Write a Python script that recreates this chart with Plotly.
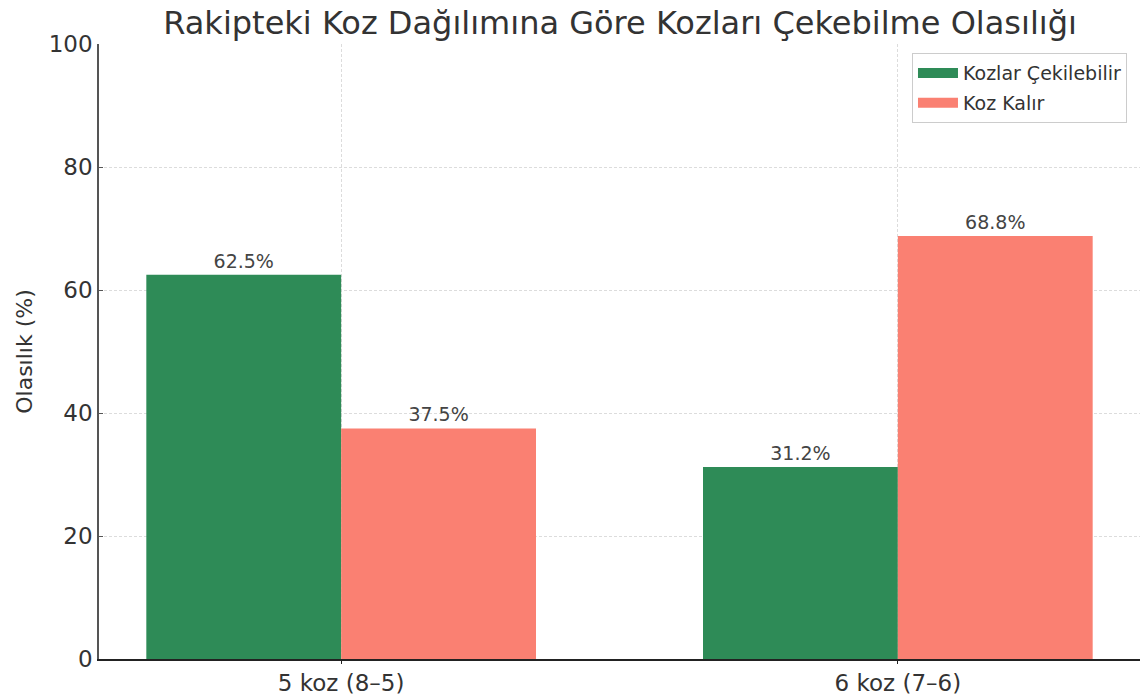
import plotly.graph_objects as go

categories = ["5 koz (8–5)", "6 koz (7–6)"]
cekilebilir = [62.5, 31.2]
kalir = [37.5, 68.8]
series_names = ["Kozlar Çekilebilir", "Koz Kalır"]
yticks = [0, 20, 40, 60, 80, 100]

FONT = "DejaVu Sans"
GREEN = "#2e8b57"
SALMON = "#fa8072"
fig = go.Figure()
for vals, name, col in [(cekilebilir, series_names[0], GREEN), (kalir, series_names[1], SALMON)]:
    fig.add_trace(go.Bar(x=[0, 1], y=vals, name=name, marker_color=col,
                         marker_line_width=0, text=[f"{v:.1f}%" for v in vals],
                         textposition="outside",
                         textfont=dict(family=FONT, size=19, color="#444"),
                         cliponaxis=False, showlegend=False, legendgroup=name))
# legend patches (wide rectangles like the reference)
for name, col in [(series_names[0], GREEN), (series_names[1], SALMON)]:
    fig.add_trace(go.Scatter(x=[None], y=[None], mode="lines", name=name,
                             line=dict(color=col, width=13), legendgroup=name,
                             hoverinfo="skip"))

fig.update_layout(
    width=1140, height=698,
    margin=dict(l=99, r=0, t=44, b=39),
    barmode="group", bargap=0.3, bargroupgap=0,
    plot_bgcolor="white", paper_bgcolor="white",
    font=dict(family=FONT, color="#333"),
    title=dict(text="Rakipteki Koz Dağılımına Göre Kozları Çekebilme Olasılığı",
               x=0.5439, xanchor="center", y=0.968, yanchor="middle",
               font=dict(family=FONT, size=32, color="#333")),
    legend=dict(x=0.9875, xanchor="right", y=0.985, yanchor="top",
                bordercolor="#cccccc", borderwidth=1, bgcolor="white",
                font=dict(family=FONT, size=19, color="#333"),
                tracegroupgap=2, itemwidth=40),
    showlegend=True,
)
fig.update_xaxes(range=[-0.435, 1.435], tickvals=[0, 1], ticktext=categories,
                 showgrid=True, gridcolor="#dcdcdc", griddash="3px,2px", gridwidth=1,
                 showline=True, linecolor="#222", linewidth=1.5,
                 ticks="outside", ticklen=3, tickcolor="#222",
                 tickfont=dict(family=FONT, size=23, color="#333"), zeroline=False)
fig.update_yaxes(range=[0, 100], tickvals=yticks,
                 showgrid=True, gridcolor="#dcdcdc", griddash="3px,2px", gridwidth=1,
                 showline=True, linecolor="#555", linewidth=1.5,
                 ticks="inside", ticklen=4, tickcolor="#555",
                 tickfont=dict(family=FONT, size=23, color="#333"), zeroline=False,
                 title=dict(text="Olasılık (%)", font=dict(family=FONT, size=22, color="#333"),
                            standoff=10))

fig.write_html("out.html", config={"displayModeBar": False},
               post_script="document.body.style.margin='0';document.body.style.overflow='hidden';")
